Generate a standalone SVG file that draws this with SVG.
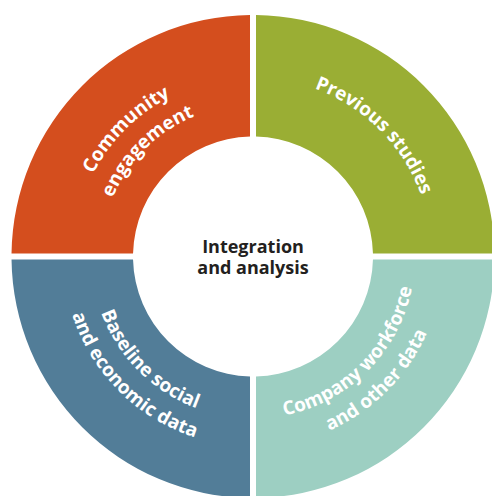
<svg xmlns="http://www.w3.org/2000/svg" width="492" height="496" viewBox="0 0 492 496">
<style>
.lbl{font-family:"Open Sans","Noto Sans","DejaVu Sans",sans-serif;font-weight:bold;font-size:19px;fill:#ffffff;}
.ctr{font-family:"Open Sans","Noto Sans","DejaVu Sans",sans-serif;font-weight:bold;font-size:18px;fill:#231f20;}
</style>
<defs>
<path id="tlOuter" d="M 73 256.5 A 180 180 0 0 1 253 76.5"/>
<path id="tlInner" d="M 101 256.5 A 152 152 0 0 1 253 104.5"/>
<path id="trMid" d="M 253 77.5 A 179 179 0 0 1 432 256.5"/>
<path id="blInner" d="M 91 256.5 A 162 162 0 0 0 253 418.5"/>
<path id="blOuter" d="M 63 256.5 A 190 190 0 0 0 253 446.5"/>
<path id="brInner" d="M 253 418.5 A 162 162 0 0 0 415 256.5"/>
<path id="brOuter" d="M 253 446.5 A 190 190 0 0 0 443 256.5"/>
</defs>
<rect width="492" height="496" fill="#ffffff"/>
<g id="community-engagement">
<path d="M 11.52 253.5 A 241.5 241.5 0 0 1 250 15.02 L 250 136.54 A 120 120 0 0 0 133.04 253.5 Z" fill="#d44e1e"/>
<text class="lbl" text-anchor="middle"><textPath href="#tlOuter" startOffset="50%">Community</textPath></text>
<text class="lbl" text-anchor="middle"><textPath href="#tlInner" startOffset="50%">engagement</textPath></text>
</g>
<g id="previous-studies">
<path d="M 256 15.02 A 241.5 241.5 0 0 1 494.48 253.5 L 372.96 253.5 A 120 120 0 0 0 256 136.54 Z" fill="#9aae34"/>
<text class="lbl" text-anchor="middle"><textPath href="#trMid" startOffset="50%">Previous studies</textPath></text>
</g>
<g id="company-workforce">
<path d="M 494.48 259.5 A 241.5 241.5 0 0 1 256 497.98 L 256 376.46 A 120 120 0 0 0 372.96 259.5 Z" fill="#9dcfc2"/>
<text class="lbl" text-anchor="middle"><textPath href="#brInner" startOffset="50%">Company workforce</textPath></text>
<text class="lbl" text-anchor="middle"><textPath href="#brOuter" startOffset="50%">and other data</textPath></text>
</g>
<g id="baseline-data">
<path d="M 250 497.98 A 241.5 241.5 0 0 1 11.52 259.5 L 133.04 259.5 A 120 120 0 0 0 250 376.46 Z" fill="#527d98"/>
<text class="lbl" text-anchor="middle"><textPath href="#blInner" startOffset="50%">Baseline social</textPath></text>
<text class="lbl" text-anchor="middle"><textPath href="#blOuter" startOffset="50%">and economic data</textPath></text>
</g>
<g id="integration">
<text class="ctr" text-anchor="middle" x="253" y="253">Integration</text>
<text class="ctr" text-anchor="middle" x="253" y="274">and analysis</text>
</g>
<g id="connectors"></g>
</svg>
